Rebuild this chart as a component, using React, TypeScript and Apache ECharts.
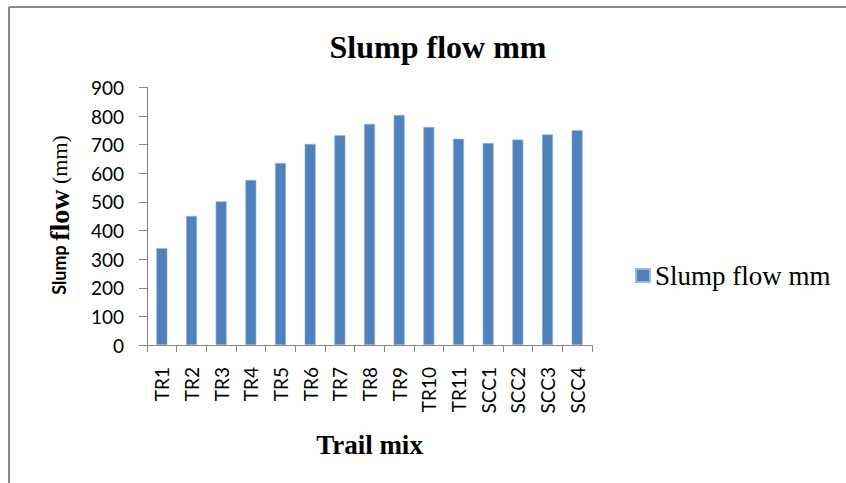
import React, { useEffect, useRef } from "react";
import * as echarts from "echarts";

const categories = ["TR1", "TR2", "TR3", "TR4", "TR5", "TR6", "TR7", "TR8", "TR9", "TR10", "TR11", "SCC1", "SCC2", "SCC3", "SCC4"];
const slumpFlow = [338, 451, 502, 577, 636, 703, 733, 773, 804, 762, 721, 706, 718, 736, 751];
const seriesName = "Slump flow mm";
const chartTitle = "Slump flow mm";
const xAxisTitle = "Trail mix";

export default function App() {
  const ref = useRef<HTMLDivElement>(null);
  useEffect(() => {
    if (!ref.current) return;
    const chart = echarts.init(ref.current, null, { renderer: "svg" });
    const axisColor = "#868686";
    chart.setOption({
      animation: false,
      backgroundColor: "#ffffff",
      title: {
        text: chartTitle,
        left: 433,
        textAlign: "center",
        top: 26,
        textStyle: { fontFamily: "Liberation Serif", fontWeight: "bold", fontSize: 32, color: "#000" },
      },
      legend: {
        left: 630,
        top: 257,
        itemWidth: 14,
        itemHeight: 13,
        itemGap: 8,
        icon: "rect",
        textStyle: { fontFamily: "Liberation Serif", fontSize: 27, color: "#000" },
        data: [seriesName],
      },
      grid: { left: 147, right: 254, top: 87.5, bottom: 138, containLabel: false },
      xAxis: {
        type: "category",
        data: categories,
        name: xAxisTitle,
        nameLocation: "middle",
        nameGap: 86,
        nameTextStyle: { fontFamily: "Liberation Serif", fontWeight: "bold", fontSize: 27, color: "#000" },
        axisLine: { show: true, lineStyle: { color: axisColor, width: 1 } },
        axisTick: { show: true, length: 7, lineStyle: { color: axisColor } },
        axisLabel: { rotate: 90, margin: 22, fontFamily: "Lato", fontSize: 19, color: "#000" },
      },
      yAxis: {
        type: "value",
        min: 0,
        max: 900,
        interval: 100,
        axisLine: { show: true, lineStyle: { color: axisColor, width: 1 } },
        axisTick: { show: true, length: 8, lineStyle: { color: axisColor } },
        splitLine: { show: false },
        axisLabel: { margin: 23, fontFamily: "Lato", fontSize: 19, color: "#000" },
      },
      graphic: [
        { type: "line", shape: { x1: 9, y1: 7, x2: 9, y2: 483 }, style: { stroke: "#888", lineWidth: 2 } },
        { type: "line", shape: { x1: 9, y1: 7, x2: 846, y2: 7 }, style: { stroke: "#888", lineWidth: 2 } },
        {
          type: "text",
          x: 59,
          y: 215,
          rotation: Math.PI / 2,
          style: {
            text: "{a|Slump }{b|flow}{c| (mm)}",
            align: "center",
            verticalAlign: "middle",
            fill: "#000",
            rich: {
              a: { fontFamily: "Lato", fontWeight: "bold", fontSize: 18, fill: "#000" },
              b: { fontFamily: "Liberation Serif", fontWeight: "bold", fontSize: 28, fill: "#000" },
              c: { fontFamily: "Liberation Serif", fontSize: 22, fill: "#000" },
            },
          },
        },
      ],
      series: [
        {
          name: seriesName,
          type: "bar",
          data: slumpFlow,
          barWidth: 11,
          itemStyle: { color: "#4F81BD", borderColor: "#9DB8DA", borderWidth: 0.6 },
        },
      ],
    });
    return () => chart.dispose();
  }, []);
  return <div ref={ref} style={{ position: "absolute", left: 0, top: 0, width: 846, height: 483 }} />;
}
